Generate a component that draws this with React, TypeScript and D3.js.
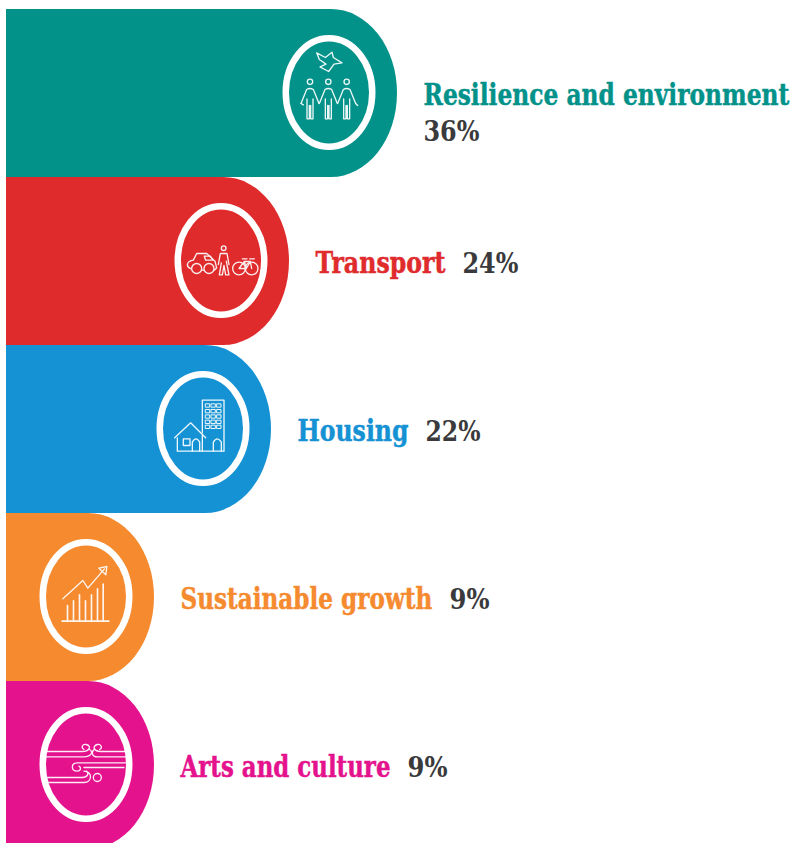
import React, { useLayoutEffect, useRef } from "react";
import * as d3 from "d3";

const categories = ["Resilience and environment", "Transport", "Housing", "Sustainable growth", "Arts and culture"];
const shares = [36, 24, 22, 9, 9];
const colours = ["#02928a", "#e02b2d", "#1592d4", "#f58a2f", "#e5128e"];
const labelWidths = [366, 130, 111, 252, 210];
const percentWidths = [56, 56, 55, 40, 40];
const iconKeys = ["people", "transport", "housing", "growth", "arts"];
const iconOrigins = [[177, 189], [168, 183], [159, 177], [169.5, 183], [171, 195]];

const W = 793, H = 843;
const rowH = 168, top = 9, left = 6, capRx = 66;
const x = d3.scaleLinear().domain([0, 36]).range([73, 397]);
const y = d3.scaleBand<number>().domain(d3.range(categories.length)).range([top, top + rowH * categories.length]);
const serif = "'DejaVu Serif', 'Liberation Serif', serif";

function barPath(x1: number, y0: number, h: number) {
  const r = h / 2;
  return `M${left},${y0} H${x1 - capRx} A${capRx},${r} 0 0 1 ${x1 - capRx},${y0 + h} H${left} Z`;
}

// Icons are authored on a 3x grid and drawn at 1/3 size.
function Icon({ kind }: { kind: string }) {
  if (kind === "people") {
    return (
      <g>
        <path d="M140,70 L166,84 L186,68 L190,84 L216,100 L192,104 L176,126 L150,112 L168,104 L148,90 Z" />
        {[120, 175, 230].map((c) => (
          <g key={c}>
            <circle cx={c} cy={157} r={8} />
            <path d={`M${c - 27},222 L${c - 10},180 Q${c},174 ${c + 10},180 L${c + 27},222`} />
            <path d={`M${c - 9},208 V268 H${c - 2} V228 M${c + 9},208 V268 H${c + 2} V228`} />
          </g>
        ))}
        <path d="M93,222 L100,226 M257,222 L263,228" />
      </g>
    );
  }
  if (kind === "transport") {
    return (
      <g>
        <circle cx={95} cy={207} r={15} />
        <circle cx={132} cy={207} r={15} />
        <path d="M78,208 C60,200 66,185 85,182 L95,162 L125,162 L150,185 L155,205 L148,212 M110,212 H116" />
        <path d="M118,170 H136 L144,182 H122 Z" />
        <circle cx={176} cy={146} r={7} />
        <path d="M166,162 H186 L192,195 M166,162 L160,195 M169,190 L163,226 H172 L177,198 L182,226 H192 L184,185" />
        <circle cx={222} cy={207} r={19} />
        <circle cx={260} cy={207} r={19} />
        <path d="M222,207 L238,186 H256 L260,207 M232,178 H246 M254,178 H268 M238,186 L244,207 H222 M244,207 L256,186" />
      </g>
    );
  }
  if (kind === "housing") {
    const cols = [173, 190, 207], rows = [108, 125, 141, 157, 172];
    return (
      <g>
        <path d="M157,190 V92 H222 V245 H82 V205" />
        <path d="M74,205 L122,160 L167,205 M157,245 V195" />
        {rows.flatMap((r) => cols.map((c) => <rect key={`${r}-${c}`} x={c - 6} y={r - 5} width={12} height={10} strokeWidth={3} />))}
        <rect x={100} y={208} width={20} height={20} />
        <path d="M127,245 V218 Q138,198 149,218 V245 M190,245 V218 Q202,198 214,218 V245" />
      </g>
    );
  }
  if (kind === "growth") {
    return (
      <g>
        <path d="M98,257 H238" strokeWidth={5} />
        {[[114, 210], [132, 196], [150, 178], [168, 196], [186, 178], [204, 160], [221, 146]].map(([c, t]) => (
          <path key={c} d={`M${c},256 V${t}`} strokeWidth={5} />
        ))}
        <path d="M100,190 L160,135 L175,158 L225,100" />
        <path d="M208,98 L232,93 L229,118 Z" />
      </g>
    );
  }
  return (
    <g>
      <path d="M50,156 H160 C180,156 190,140 172,135 C160,132 155,145 165,150" />
      <path d="M50,172 H165 C185,172 195,158 182,150" />
      <path d="M290,156 H215 C195,156 188,140 205,135 C215,132 222,145 212,150" />
      <path d="M290,172 H205 C190,172 185,160 195,150" />
      <path d="M290,190 H145 C125,190 125,215 145,215 C155,215 158,205 150,200" />
      <path d="M285,204 H165" />
      <path d="M50,234 H160 C175,234 182,222 172,215 M50,249 H165 C190,249 192,215 165,215" />
      <circle cx={205} cy={234} r={12} />
    </g>
  );
}

export default function App() {
  const svgRef = useRef<SVGSVGElement>(null);

  // Squeeze the serif to the reference's condensed widths using measured text lengths.
  useLayoutEffect(() => {
    d3.select(svgRef.current).selectAll<SVGTextElement, unknown>("text[data-w]").each(function () {
      const tx = +this.getAttribute("data-x")!;
      const ty = +this.getAttribute("data-y")!;
      const w = +this.getAttribute("data-w")!;
      this.setAttribute("transform", `translate(${tx},${ty}) scale(${w / this.getComputedTextLength()},1)`);
    });
  }, []);

  return (
    <svg ref={svgRef} width={W} height={H} viewBox={`0 0 ${W} ${H}`} style={{ position: "absolute", left: 0, top: 0, background: "#fff" }}>
      {categories.map((name, i) => {
        const x1 = x(shares[i]);
        const y0 = y(i)!;
        const cy = y0 + y.bandwidth() / 2;
        const cx = x1 - 68;
        const labelX = x1 + 26.5;
        const single = i > 0;
        const baseline = cy + 12;
        return (
          <g key={name}>
            <path d={barPath(x1, y0, y.bandwidth())} fill={colours[i]} />
            <ellipse cx={cx} cy={cy - 0.5} rx={43.25} ry={54.25} fill="none" stroke="#fff" strokeWidth={6.5} />
            <g
              transform={`translate(${cx},${cy - 0.5}) scale(${1 / 3}) translate(${-iconOrigins[i][0]},${-iconOrigins[i][1]})`}
              fill="none"
              stroke="#fff"
              strokeWidth={4}
              strokeLinejoin="round"
              strokeLinecap="round"
              opacity={0.92}
            >
              <Icon kind={iconKeys[i]} />
            </g>
            <text
              data-x={labelX}
              data-y={baseline}
              data-w={labelWidths[i]}
              fontFamily={serif}
              fontWeight={700}
              fontSize={30}
              fill={colours[i]}
              stroke={colours[i]}
              strokeWidth={0.5}
            >
              {name}
            </text>
            <text
              data-x={single ? labelX + labelWidths[i] + 17 : labelX}
              data-y={single ? baseline : baseline + 36}
              data-w={percentWidths[i]}
              fontFamily={serif}
              fontWeight={700}
              fontSize={28}
              fill="#3a3a3c"
            >
              {shares[i]}%
            </text>
          </g>
        );
      })}
    </svg>
  );
}
